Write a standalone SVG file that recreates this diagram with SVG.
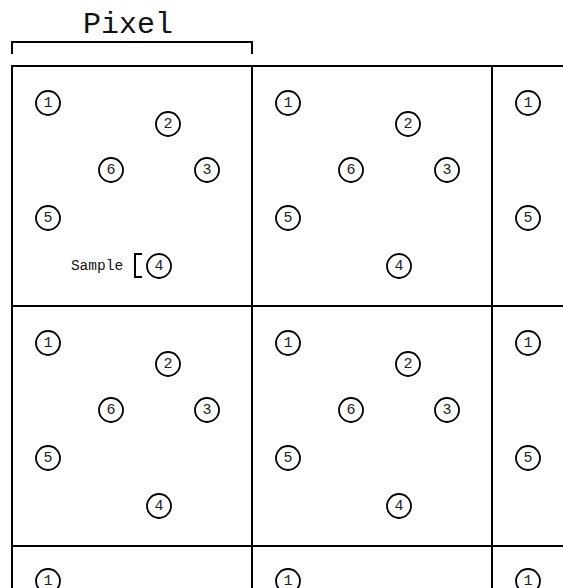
<svg xmlns="http://www.w3.org/2000/svg" width="563" height="588" viewBox="0 0 563 588">
<style>
.grid{stroke:#000;stroke-width:2;fill:none}
.s circle{fill:#fff;stroke:#000;stroke-width:1.8}
.s text{font-family:"Liberation Mono","DejaVu Sans Mono",monospace;font-size:15px;fill:#222;text-anchor:middle;dominant-baseline:central}
.lbl{font-family:"Liberation Mono","DejaVu Sans Mono",monospace;fill:#111}
</style>
<rect width="563" height="588" fill="#fff"/>
<g id="connectors" class="grid">
<path d="M12,588 V66 H563 M252,66 V588 M492,66 V588 M12,306 H563 M12,546 H563"/>
<path d="M12,54 V42 H252 V54"/>
<path d="M142,254 H135 V277 H142"/>
</g>
<text class="lbl" x="128" y="33" font-size="30" text-anchor="middle">Pixel</text>
<text class="lbl" x="97" y="270" font-size="14.5" text-anchor="middle">Sample</text>
<g id="cell-0-0" class="s" transform="translate(12,66)">
<g id="c00-1"><circle cx="36" cy="37" r="12"/><text x="36" y="37">1</text></g>
<g id="c00-2"><circle cx="156" cy="58" r="12"/><text x="156" y="58">2</text></g>
<g id="c00-3"><circle cx="195" cy="104" r="12"/><text x="195" y="104">3</text></g>
<g id="c00-4"><circle cx="147" cy="200" r="12"/><text x="147" y="200">4</text></g>
<g id="c00-5"><circle cx="36" cy="152" r="12"/><text x="36" y="152">5</text></g>
<g id="c00-6"><circle cx="99" cy="104" r="12"/><text x="99" y="104">6</text></g>
</g>
<g id="cell-0-1" class="s" transform="translate(252,66)">
<g id="c01-1"><circle cx="36" cy="37" r="12"/><text x="36" y="37">1</text></g>
<g id="c01-2"><circle cx="156" cy="58" r="12"/><text x="156" y="58">2</text></g>
<g id="c01-3"><circle cx="195" cy="104" r="12"/><text x="195" y="104">3</text></g>
<g id="c01-4"><circle cx="147" cy="200" r="12"/><text x="147" y="200">4</text></g>
<g id="c01-5"><circle cx="36" cy="152" r="12"/><text x="36" y="152">5</text></g>
<g id="c01-6"><circle cx="99" cy="104" r="12"/><text x="99" y="104">6</text></g>
</g>
<g id="cell-0-2" class="s" transform="translate(492,66)">
<g id="c02-1"><circle cx="36" cy="37" r="12"/><text x="36" y="37">1</text></g>
<g id="c02-5"><circle cx="36" cy="152" r="12"/><text x="36" y="152">5</text></g>
</g>
<g id="cell-1-0" class="s" transform="translate(12,306)">
<g id="c10-1"><circle cx="36" cy="37" r="12"/><text x="36" y="37">1</text></g>
<g id="c10-2"><circle cx="156" cy="58" r="12"/><text x="156" y="58">2</text></g>
<g id="c10-3"><circle cx="195" cy="104" r="12"/><text x="195" y="104">3</text></g>
<g id="c10-4"><circle cx="147" cy="200" r="12"/><text x="147" y="200">4</text></g>
<g id="c10-5"><circle cx="36" cy="152" r="12"/><text x="36" y="152">5</text></g>
<g id="c10-6"><circle cx="99" cy="104" r="12"/><text x="99" y="104">6</text></g>
</g>
<g id="cell-1-1" class="s" transform="translate(252,306)">
<g id="c11-1"><circle cx="36" cy="37" r="12"/><text x="36" y="37">1</text></g>
<g id="c11-2"><circle cx="156" cy="58" r="12"/><text x="156" y="58">2</text></g>
<g id="c11-3"><circle cx="195" cy="104" r="12"/><text x="195" y="104">3</text></g>
<g id="c11-4"><circle cx="147" cy="200" r="12"/><text x="147" y="200">4</text></g>
<g id="c11-5"><circle cx="36" cy="152" r="12"/><text x="36" y="152">5</text></g>
<g id="c11-6"><circle cx="99" cy="104" r="12"/><text x="99" y="104">6</text></g>
</g>
<g id="cell-1-2" class="s" transform="translate(492,306)">
<g id="c12-1"><circle cx="36" cy="37" r="12"/><text x="36" y="37">1</text></g>
<g id="c12-5"><circle cx="36" cy="152" r="12"/><text x="36" y="152">5</text></g>
</g>
<g id="cell-2-0" class="s" transform="translate(12,546)">
<g id="c20-1"><circle cx="36" cy="35" r="12"/><text x="36" y="35">1</text></g>
</g>
<g id="cell-2-1" class="s" transform="translate(252,546)">
<g id="c21-1"><circle cx="36" cy="35" r="12"/><text x="36" y="35">1</text></g>
</g>
<g id="cell-2-2" class="s" transform="translate(492,546)">
<g id="c22-1"><circle cx="36" cy="35" r="12"/><text x="36" y="35">1</text></g>
</g>
</svg>
